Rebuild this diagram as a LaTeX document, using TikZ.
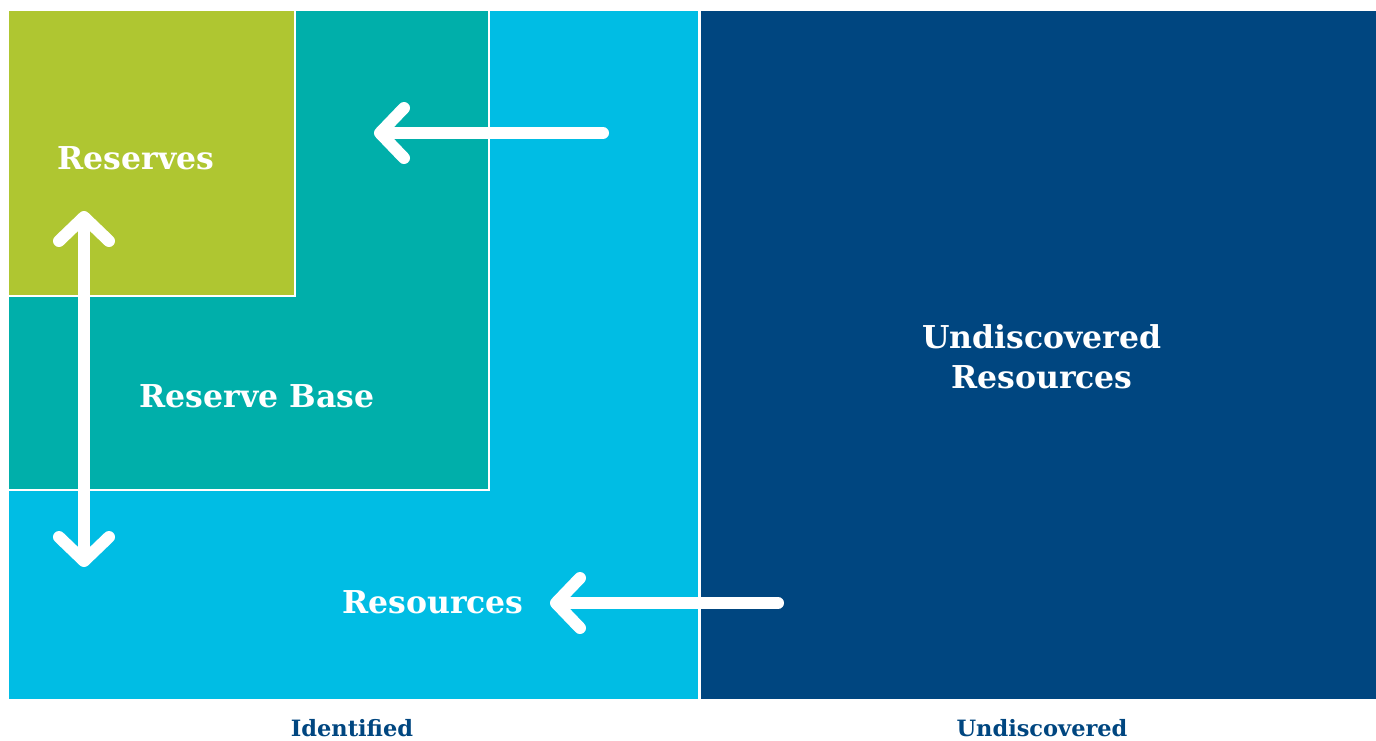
\documentclass[tikz,border=0pt]{standalone}
\usepackage{fontspec}
\setmainfont{DejaVu Serif}
\usetikzlibrary{arrows.meta}
\definecolor{cgreen}{HTML}{AFC631}
\definecolor{cteal}{HTML}{00AFAA}
\definecolor{ccyan}{HTML}{00BDE4}
\definecolor{cnavy}{HTML}{004680}
\begin{document}
\begin{tikzpicture}[x=1pt,y=-1pt,
  region/.style={draw=white, line width=2.5pt},
  biglabel/.style={text=white, font=\bfseries\fontsize{31.5}{40}\selectfont, align=center, inner sep=0pt},
  axislabel/.style={text=cnavy, font=\bfseries\fontsize{22.5}{26}\selectfont, inner sep=0pt},
  bigarrow/.style={draw=white, line width=12pt, line cap=round,
     -{Straight Barb[length=24pt, width=50pt, round]}},
  bigdarrow/.style={draw=white, line width=12pt,
     {Straight Barb[length=24pt, width=50pt, round]}-{Straight Barb[length=24pt, width=50pt, round]}}
]
\useasboundingbox (0,0) rectangle (1376,740);
% regions
\path[fill=ccyan] (9,11) rectangle (699,699);
\path[fill=cnavy] (699,11) rectangle (1376,699);
\draw[white, line width=3pt] (699,11) -- (699,699);
\path[fill=cteal] (9,11) rectangle (489,490);
\draw[region] (9,490) -- (489,490) -- (489,11);
\path[fill=cgreen] (9,11) rectangle (295,296);
\draw[region] (9,296) -- (295,296) -- (295,11);
% labels
\node[biglabel] (reserves) at (136,158) {Reserves};
\node[biglabel] (base) at (257,396) {Reserve Base};
\node[biglabel] (resources) at (433,602) {Resources};
\node[biglabel] (undisc) at (1042,357) {Undiscovered\\Resources};
\node[axislabel] (ident) at (352,728) {Identified};
\node[axislabel] (undiscax) at (1042,728) {Undiscovered};
% arrows
\coordinate (a1s) at (603,133);
\coordinate (a1e) at (374,133);
\coordinate (a2s) at (778,603);
\coordinate (a2e) at (550,603);
\coordinate (v1) at (84,211);
\coordinate (v2) at (84,567);
\draw[bigarrow] (a1s) -- (a1e);
\draw[bigarrow] (a2s) -- (a2e);
\draw[bigdarrow] (v1) -- (v2);
\end{tikzpicture}
\end{document}
